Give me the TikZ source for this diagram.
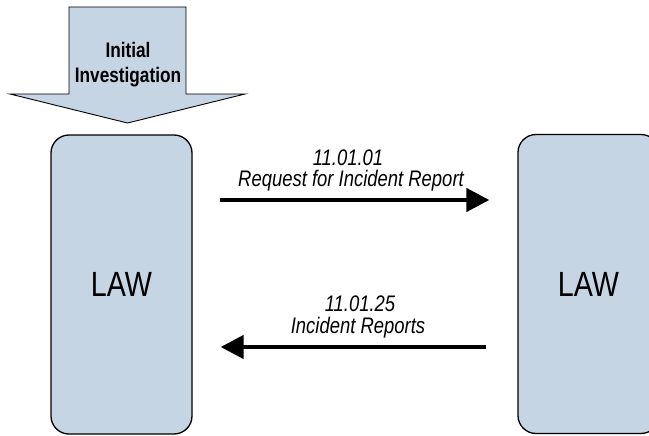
\documentclass[tikz,border=0pt]{standalone}
\usepackage{fontspec}
\setmainfont{Liberation Sans}
\newfontfamily\narrowfont[FakeStretch=0.82]{Liberation Sans}
\usetikzlibrary{arrows.meta}
\definecolor{lawfill}{HTML}{C6D5E4}
\tikzset{
  lawbox/.style={draw=black, line width=1.3pt, fill=lawfill, rounded corners=18pt,
    minimum width=141pt, minimum height=299pt, inner sep=0pt,
    font=\narrowfont\fontsize{35}{40}\selectfont},
  flow/.style={line width=4.5pt, -{Triangle[length=23pt,width=23pt]}},
  msg/.style={anchor=base, inner sep=0pt, font=\narrowfont\itshape\fontsize{22.5}{26}\selectfont},
  blockarrow/.style={draw=black, line width=0.9pt, fill=lawfill, line join=miter},
  invtext/.style={anchor=base, inner sep=0pt, font=\narrowfont\bfseries\fontsize{21}{25}\selectfont}
}
\begin{document}
\begin{tikzpicture}[x=1pt, y=-1pt]
  \clip (0,0) rectangle (649,436);
  \fill[white] (0,0) rectangle (649,436);

  % block arrow feeding the first LAW box
  \draw[blockarrow] (69,7) -- (186,7) -- (186,94) -- (245,94) -- (127.5,123)
    -- (10,94) -- (69,94) -- cycle;
  \node[invtext] (initA) at (128,58) {Initial};
  \node[invtext] (initB) at (128,83) {Investigation};

  % the two LAW boxes
  \node[lawbox] (lawL) at (121.5,284.5) {LAW};
  \node[lawbox] (lawR) at (588.5,284) {LAW};

  % request and reply messages
  \draw[flow, shorten <=27pt, shorten >=28pt] (lawL.east |- 0,200) -- (lawR.west |- 0,200);
  \node[msg] (m1num) at (348,165) {11.01.01};
  \node[msg] (m1txt) at (351,186) {Request for Incident Report};

  \draw[flow, shorten <=31pt, shorten >=28pt] (lawR.west |- 0,347) -- (lawL.east |- 0,347);
  \node[msg] (m2num) at (360,311) {11.01.25};
  \node[msg] (m2txt) at (358,333) {Incident Reports};
\end{tikzpicture}
\end{document}
